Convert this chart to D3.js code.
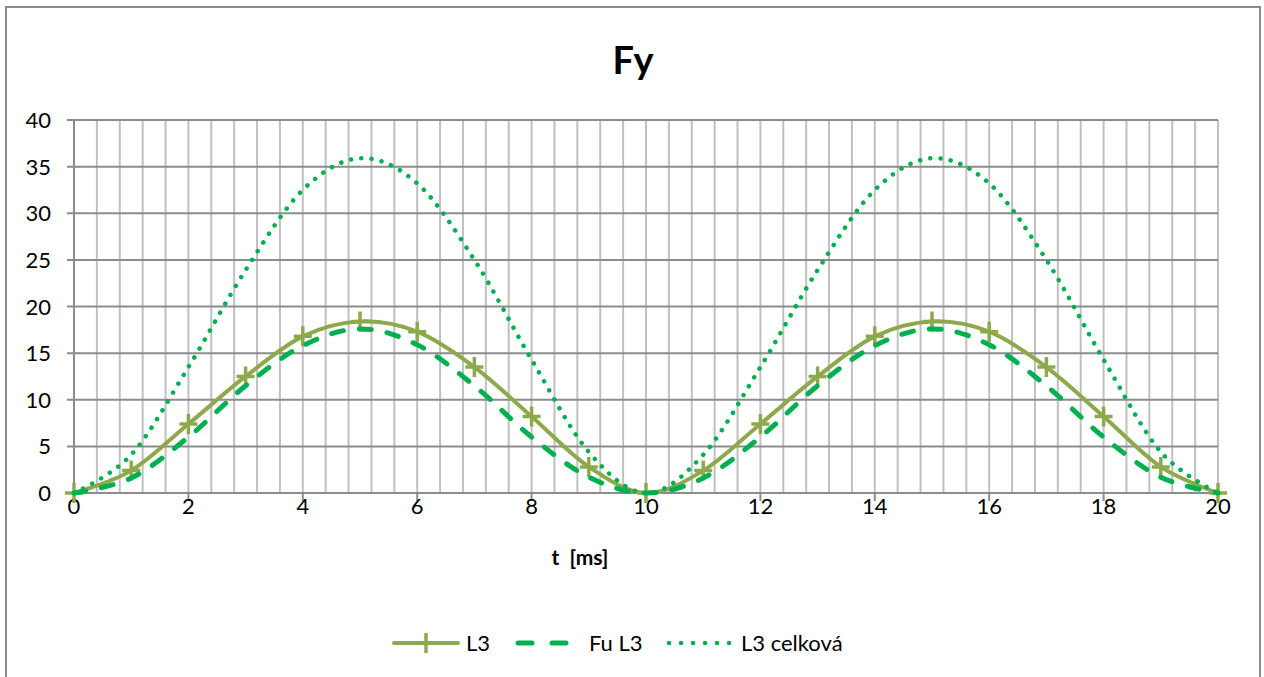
<!DOCTYPE html>
<html><head><meta charset="utf-8">
<script src="https://cdn.jsdelivr.net/npm/d3@7/dist/d3.min.js"></script>
<style>
html,body{margin:0;padding:0;background:#fff;}
text{font-family:Lato,"Open Sans",sans-serif;fill:#000;}
</style></head>
<body>
<svg id="c" width="1264" height="677"></svg>
<script>
const title = "Fy";
const xLabel = "t  [ms]";
const tValues = [0,1,2,3,4,5,6,7,8,9,10,11,12,13,14,15,16,17,18,19,20];
const L3 = [0,2.4,7.4,12.5,16.8,18.4,17.3,13.5,8.2,2.8,0,2.4,7.4,12.5,16.8,18.4,17.3,13.5,8.2,2.8,0];
const FuL3 = [0,1.6,6.0,11.5,15.8,17.6,15.9,11.5,6.0,1.7,0,1.6,6.0,11.5,15.8,17.6,15.9,11.5,6.0,1.7,0];
const L3celkova = [0,4.1,13.5,23.9,32.5,35.9,33.2,25.0,14.3,4.4,0,4.1,13.5,23.9,32.5,35.9,33.2,25.0,14.3,4.4,0];
const seriesNames = ["L3","Fu L3","L3 celková"];
const xTicks = [0,2,4,6,8,10,12,14,16,18,20];
const yTicks = [0,5,10,15,20,25,30,35,40];

(function(){
const svg = d3.select("#c");
const pL = 74, pR = 1218, pT = 120, pB = 493;
const x = d3.scaleLinear().domain([0,20]).range([pL,pR]);
const y = d3.scaleLinear().domain([0,40]).range([pB,pT]);

// outer frame
svg.append("rect").attr("x",6).attr("y",7).attr("width",1254).attr("height",680)
  .attr("fill","#fff").attr("stroke","#8c8c8c").attr("stroke-width",2);

// title
svg.append("text").attr("x",633).attr("y",74).attr("text-anchor","middle")
  .attr("font-size",38).attr("font-weight","bold").text(title);

// vertical minor gridlines
const minor = d3.range(0, 20.0001, 0.4);
svg.append("g").selectAll("line").data(minor).join("line")
  .attr("x1",d=>x(d)).attr("x2",d=>x(d)).attr("y1",pT).attr("y2",pB)
  .attr("stroke","#c0c0c0").attr("stroke-width",2);

// horizontal gridlines
svg.append("g").selectAll("line").data(yTicks).join("line")
  .attr("x1",pL-7).attr("x2",pR).attr("y1",d=>y(d)).attr("y2",d=>y(d))
  .attr("stroke","#8c8c8c").attr("stroke-width",2);

// y axis line
svg.append("line").attr("x1",pL).attr("x2",pL).attr("y1",pT).attr("y2",pB)
  .attr("stroke","#8c8c8c").attr("stroke-width",2);
// x axis ticks
svg.append("g").selectAll("line").data(xTicks).join("line")
  .attr("x1",d=>x(d)).attr("x2",d=>x(d)).attr("y1",pB).attr("y2",pB+8)
  .attr("stroke","#8c8c8c").attr("stroke-width",2);

// y labels
svg.append("g").selectAll("text").data(yTicks).join("text")
  .attr("x",51).attr("y",d=>y(d)+8).attr("text-anchor","end")
  .attr("font-size",22).text(d=>d);
// x labels
svg.append("g").selectAll("text").data(xTicks).join("text")
  .attr("x",d=>x(d)).attr("y",pB+21).attr("text-anchor","middle")
  .attr("font-size",22).text(d=>d);
// x axis title
svg.append("text").attr("x",580).attr("y",565).attr("text-anchor","middle")
  .attr("font-size",21).attr("font-weight","bold").attr("xml:space","preserve").text(xLabel);

const line = d3.line().x(d=>x(d[0])).y(d=>y(d[1])).curve(d3.curveCardinal.tension(0));
const pts = arr => tValues.map((t,i)=>[t,arr[i]]);

const colL3 = "#8DA94C", colG = "#00B050";

// L3 solid
svg.append("path").attr("d",line(pts(L3))).attr("fill","none")
  .attr("stroke",colL3).attr("stroke-width",4).attr("stroke-linejoin","round");
// markers
const mk = svg.append("g");
pts(L3).forEach(p=>{
  const cx=x(p[0]), cy=y(p[1]);
  mk.append("path").attr("d",`M${cx-9},${cy}H${cx+9}M${cx},${cy-10}V${cy+10}`)
    .attr("stroke",colL3).attr("stroke-width",3.5).attr("fill","none");
});
// Fu L3 dashed
svg.append("path").attr("d",line(pts(FuL3))).attr("fill","none")
  .attr("stroke",colG).attr("stroke-width",5).attr("stroke-linecap","round")
  .attr("stroke-dasharray","12 16");
// L3 celkova dotted
svg.append("path").attr("d",line(pts(L3celkova))).attr("fill","none")
  .attr("stroke",colG).attr("stroke-width",4.5).attr("stroke-linecap","round")
  .attr("stroke-dasharray","0.1 10.2");

// legend
const ly = 643;
const lg = svg.append("g");
lg.append("line").attr("x1",394).attr("x2",458).attr("y1",ly).attr("y2",ly)
  .attr("stroke",colL3).attr("stroke-width",4).attr("stroke-linecap","round");
lg.append("path").attr("d",`M417,${ly}H435M426,${ly-10}V${ly+10}`).attr("stroke",colL3).attr("stroke-width",3.5);
lg.append("text").attr("x",466).attr("y",ly+8).attr("font-size",22).text(seriesNames[0]);
lg.append("line").attr("x1",518).attr("x2",568).attr("y1",ly).attr("y2",ly)
  .attr("stroke",colG).attr("stroke-width",5).attr("stroke-linecap","round").attr("stroke-dasharray","14 20");
lg.append("text").attr("x",589).attr("y",ly+8).attr("font-size",22).text(seriesNames[1]);
lg.append("line").attr("x1",669).attr("x2",729).attr("y1",ly).attr("y2",ly)
  .attr("stroke",colG).attr("stroke-width",4.5).attr("stroke-linecap","round").attr("stroke-dasharray","0.1 11.9");
lg.append("text").attr("x",741).attr("y",ly+8).attr("font-size",22).text(seriesNames[2]);
})();
</script>
</body></html>
